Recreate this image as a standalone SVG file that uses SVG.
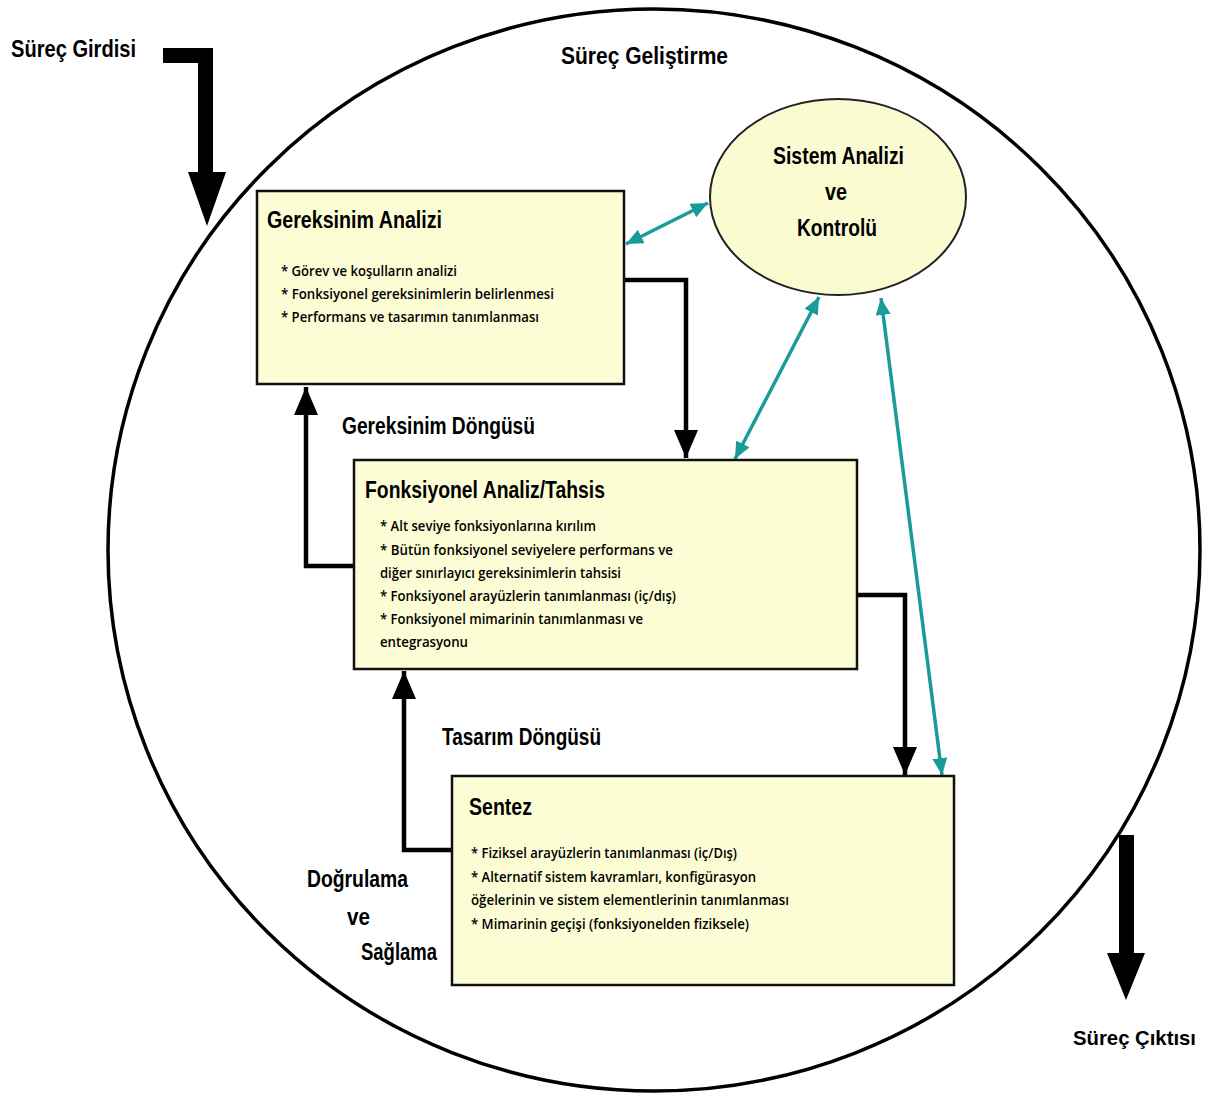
<svg xmlns="http://www.w3.org/2000/svg" width="1213" height="1095" viewBox="0 0 1213 1095">
  <style>
    .bg { fill: #ffffff; }
    .box { fill: #fdfdd5; stroke: #111; stroke-width: 2.5; }
    .oval { fill: #fbfbd2; stroke: #222; stroke-width: 2; }
    .ring { fill: none; stroke: #000; stroke-width: 3.5; }
    .lbl { font-family: "Liberation Sans", Arial, sans-serif; font-weight: bold; font-size: 24px; fill: #000; }
    .item { font-family: "Open Sans", "Liberation Sans", Arial, sans-serif; font-weight: 600; font-size: 15px; fill: #000; }
    .flow { fill: none; stroke: #000; stroke-width: 4.5; stroke-linejoin: miter; }
    .link { fill: none; stroke: #199c99; stroke-width: 3.5; }
    .big { fill: #000; }
  </style>
  <defs>
    <marker id="blk" viewBox="0 0 28 24" refX="28" refY="12" markerWidth="28" markerHeight="24" markerUnits="userSpaceOnUse" orient="auto">
      <path d="M0,0 L28,12 L0,24 z" fill="#000"/>
    </marker>
    <marker id="teal" viewBox="0 0 17 15" refX="17" refY="7.5" markerWidth="17" markerHeight="15" markerUnits="userSpaceOnUse" orient="auto-start-reverse">
      <path d="M0,0 L17,7.5 L0,15 z" fill="#199c99"/>
    </marker>
  </defs>

  <rect class="bg" x="0" y="0" width="1213" height="1095"/>

  <!-- process boundary -->
  <ellipse class="ring" cx="654" cy="550" rx="546" ry="541"/>
  <text class="lbl" x="561" y="64" textLength="167" lengthAdjust="spacingAndGlyphs">Süreç Geliştirme</text>

  <!-- process input -->
  <g id="input">
    <path class="big" d="M163,48 L213,48 L213,172 L226,172 L207,226 L188,172 L198,172 L198,63 L163,63 z"/>
    <text class="lbl" x="11" y="57" textLength="125" lengthAdjust="spacingAndGlyphs">Süreç Girdisi</text>
  </g>

  <!-- process output -->
  <g id="output">
    <path class="big" d="M1119,835 L1134,835 L1134,953 L1145,953 L1126,1000 L1107,953 L1119,953 z"/>
    <text class="lbl" x="1073" y="1045" style="font-size:21px" textLength="123" lengthAdjust="spacingAndGlyphs">Süreç Çıktısı</text>
  </g>

  <!-- connectors -->
  <g id="connectors">
    <polyline class="flow" points="624,280 686,280 686,458" marker-end="url(#blk)"/>
    <polyline class="flow" points="354,566 306,566 306,387" marker-end="url(#blk)"/>
    <polyline class="flow" points="857,595 905,595 905,775" marker-end="url(#blk)"/>
    <polyline class="flow" points="452,850 404,850 404,671" marker-end="url(#blk)"/>
    <line class="link" x1="626" y1="244" x2="708" y2="203" marker-start="url(#teal)" marker-end="url(#teal)"/>
    <line class="link" x1="735" y1="459" x2="819" y2="297" marker-start="url(#teal)" marker-end="url(#teal)"/>
    <line class="link" x1="881" y1="298" x2="942" y2="775" marker-start="url(#teal)" marker-end="url(#teal)"/>
  </g>

  <!-- system analysis & control -->
  <g id="kontrol">
    <ellipse class="oval" cx="838" cy="197" rx="128" ry="98"/>
    <text class="lbl" x="773" y="164" textLength="131" lengthAdjust="spacingAndGlyphs">Sistem Analizi</text>
    <text class="lbl" x="825" y="200" textLength="22" lengthAdjust="spacingAndGlyphs">ve</text>
    <text class="lbl" x="797" y="236" textLength="80" lengthAdjust="spacingAndGlyphs">Kontrolü</text>
  </g>

  <!-- requirements analysis -->
  <g id="gereksinim">
    <rect class="box" x="257" y="191" width="367" height="193"/>
    <text class="lbl" x="267" y="228" textLength="175" lengthAdjust="spacingAndGlyphs">Gereksinim Analizi</text>
    <text class="item" x="281" y="276" textLength="176" lengthAdjust="spacingAndGlyphs">* Görev ve koşulların analizi</text>
    <text class="item" x="281" y="299" textLength="273" lengthAdjust="spacingAndGlyphs">* Fonksiyonel gereksinimlerin belirlenmesi</text>
    <text class="item" x="281" y="322" textLength="258" lengthAdjust="spacingAndGlyphs">* Performans ve tasarımın tanımlanması</text>
  </g>

  <text class="lbl" x="342" y="434" textLength="193" lengthAdjust="spacingAndGlyphs">Gereksinim Döngüsü</text>

  <!-- functional analysis / allocation -->
  <g id="fonksiyonel">
    <rect class="box" x="354" y="460" width="503" height="209"/>
    <text class="lbl" x="365" y="498" textLength="240" lengthAdjust="spacingAndGlyphs">Fonksiyonel Analiz/Tahsis</text>
    <text class="item" x="380" y="531" textLength="216" lengthAdjust="spacingAndGlyphs">* Alt seviye fonksiyonlarına kırılım</text>
    <text class="item" x="380" y="555" textLength="293" lengthAdjust="spacingAndGlyphs">* Bütün fonksiyonel seviyelere performans ve</text>
    <text class="item" x="380" y="578" textLength="241" lengthAdjust="spacingAndGlyphs">diğer sınırlayıcı gereksinimlerin tahsisi</text>
    <text class="item" x="380" y="601" textLength="296" lengthAdjust="spacingAndGlyphs">* Fonksiyonel arayüzlerin tanımlanması (iç/dış)</text>
    <text class="item" x="380" y="624" textLength="263" lengthAdjust="spacingAndGlyphs">* Fonksiyonel mimarinin tanımlanması ve</text>
    <text class="item" x="380" y="647" textLength="88" lengthAdjust="spacingAndGlyphs">entegrasyonu</text>
  </g>

  <text class="lbl" x="442" y="745" textLength="159" lengthAdjust="spacingAndGlyphs">Tasarım Döngüsü</text>

  <!-- synthesis -->
  <g id="sentez">
    <rect class="box" x="452" y="776" width="502" height="209"/>
    <text class="lbl" x="469" y="815" textLength="63" lengthAdjust="spacingAndGlyphs">Sentez</text>
    <text class="item" x="471" y="858" textLength="266" lengthAdjust="spacingAndGlyphs">* Fiziksel arayüzlerin tanımlanması (iç/Dış)</text>
    <text class="item" x="471" y="882" textLength="285" lengthAdjust="spacingAndGlyphs">* Alternatif sistem kavramları, konfigürasyon</text>
    <text class="item" x="471" y="905" textLength="318" lengthAdjust="spacingAndGlyphs">öğelerinin ve sistem elementlerinin tanımlanması</text>
    <text class="item" x="471" y="929" textLength="278" lengthAdjust="spacingAndGlyphs">* Mimarinin geçişi (fonksiyonelden fiziksele)</text>
  </g>

  <!-- verification & validation loop label -->
  <text class="lbl" x="307" y="887" textLength="101" lengthAdjust="spacingAndGlyphs">Doğrulama</text>
  <text class="lbl" x="347" y="925" textLength="23" lengthAdjust="spacingAndGlyphs">ve</text>
  <text class="lbl" x="361" y="960" textLength="76" lengthAdjust="spacingAndGlyphs">Sağlama</text>
</svg>
